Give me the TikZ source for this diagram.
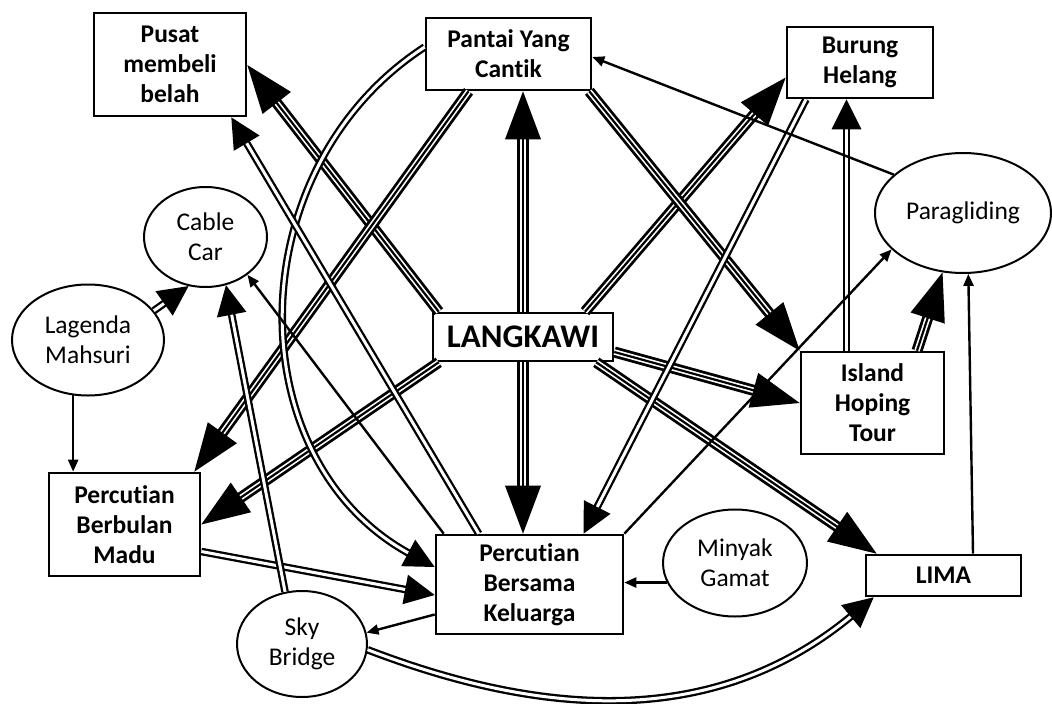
\documentclass[tikz,border=0pt]{standalone}
\usepackage{fontspec}
\setmainfont{Carlito}[Ligatures=NoCommon]
\usetikzlibrary{shapes.geometric}
\usetikzlibrary{arrows.meta}
\usetikzlibrary{calc}
\usetikzlibrary{decorations.markings}

\begin{document}
\begin{tikzpicture}[x=1pt, y=1pt,
  box/.style={draw,line width=2.6pt,fill=white,align=center,inner sep=0pt,font=\bfseries\fontsize{25.5}{30}\selectfont},
  oval/.style={draw,ellipse,line width=2pt,fill=white,align=center,inner sep=0pt,font=\fontsize{25.5}{30}\selectfont},
  one/.style={line width=2.4pt,-{Triangle[length=12pt,width=10pt]}},
  tipsmall/.style={postaction={decorate,decoration={markings,mark=at position 1 with {\fill (0,0) -- (-30,15) -- (-30,-15) -- cycle;}}}},
  tipbig/.style={postaction={decorate,decoration={markings,mark=at position 1 with {\fill (0,0) -- (-48,18) -- (-48,-18) -- cycle;}}}},
  dbl/.style={double,double distance=3pt,line width=2.3pt,shorten >=26pt,tipsmall},
  trip/.style={line width=2.2pt,shorten >=44pt,preaction={draw,double,double distance=5.5pt,line width=2.8pt,shorten >=44pt},tipbig}]

  \useasboundingbox (0,0) rectangle (1052,-704);

  % boxes
  \node[box,minimum width=152pt,minimum height=103pt] (pusat) at (170,-64.5) {Pusat\\membeli\\belah};
  \node[box,minimum width=165pt,minimum height=72pt] (pantai) at (508.5,-54) {Pantai Yang\\Cantik};
  \node[box,minimum width=146pt,minimum height=71pt] (burung) at (860,-62.5) {Burung\\Helang};
  \node[box,minimum width=180pt,minimum height=48pt,font=\bfseries\fontsize{33}{38}\selectfont] (langkawi) at (523,-337) {LANGKAWI};
  \node[box,minimum width=143pt,minimum height=102pt] (island) at (872.5,-403) {Island\\Hoping\\Tour};
  \node[box,minimum width=151pt,minimum height=103pt] (madu) at (124.5,-524.5) {Percutian\\Berbulan\\Madu};
  \node[box,minimum width=187pt,minimum height=99pt] (bersama) at (529.5,-584.5) {Percutian\\Bersama\\Keluarga};
  \node[box,minimum width=155pt,minimum height=41pt] (lima) at (943.5,-575.5) {LIMA};

  % ovals
  \node[oval,minimum width=123pt,minimum height=100pt] (cable) at (205.5,-237) {Cable\\Car};
  \node[oval,minimum width=152pt,minimum height=111pt] (lagenda) at (88,-340) {Lagenda\\Mahsuri};
  \node[oval,minimum width=176pt,minimum height=120pt] (para) at (963,-213) {Paragliding};
  \node[oval,minimum width=144pt,minimum height=107pt] (minyak) at (735,-563) {Minyak\\Gamat};
  \node[oval,minimum width=130pt,minimum height=106pt] (sky) at (302,-644) {Sky\\Bridge};

  % from LANGKAWI
  \draw[trip] (langkawi.north) -- (langkawi.north |- pantai.south);
  \draw[trip] (langkawi.south) -- (langkawi.south |- bersama.north);
  \draw[trip] ($(langkawi.north)+(62,0)$) -- ($(burung.west)+(0,-15)$);
  \draw[trip] ($(langkawi.north west)+(7,0)$) -- ($(pusat.east)+(0,-0.5)$);
  \draw[trip] ($(langkawi.south west)+(7,0)$) -- (madu.east);
  \draw[trip] ($(langkawi.east)+(0,-15)$) -- (island.west);
  \draw[trip] ($(langkawi.south east)+(-18,0)$) -- ($(lima.north west)+(12,0)$);

  % from Pantai
  \draw[trip] ($(pantai.south)+(-40,0)$) -- ($(madu.north east)+(-7,0)$);
  \draw[trip] ($(pantai.south east)+(-3,0)$) -- (island.north west);
  \draw[dbl] ($(pantai.west)+(0,7)$) to[out=213,in=152,looseness=1.1] ($(bersama.west)+(0,17.5)$);

  % Island, Burung, Paragliding
  \draw[dbl] ($(island.north)+(-26,0)$) -- ($(burung.south)+(-13.5,0)$);
  \draw[trip] ($(island.north)+(44.5,0)$) -- (para.251);
  \draw[dbl] ($(burung.south)+(-54,0)$) -- ($(bersama.north)+(54,0)$);
  \draw[one] (para.151) -- ($(pantai.east)+(0,-3)$);
  \draw[one] (bersama.north east) -- (para.207);
  \draw[one] ($(lima.north)+(29.5,0)$) -- (para.275);
  \draw[one] (minyak.196) -- (minyak.196 -| bersama.east);

  % Bersama
  \draw[one] ($(bersama.west)+(0,-30)$) -- (sky.10);
  \draw[one] ($(bersama.north west)+(9,0)$) -- (cable.-42);
  \draw[dbl] ($(bersama.north west)+(44,0)$) -- ($(pusat.south east)+(-16,0)$);
  \draw[dbl] ($(madu.east)+(0,-27)$) -- ($(bersama.west)+(0,-10.5)$);

  % Sky Bridge, Lagenda
  \draw[dbl] (sky.-5) to[out=-21,in=220] ($(lima.south west)+(9,0)$);
  \draw[dbl] (sky.108) -- (cable.-67);
  \draw[dbl] (lagenda.24) -- (cable.251);
  \draw[one] (lagenda.255) -- (lagenda.255 |- madu.north);
\end{tikzpicture}
\end{document}
